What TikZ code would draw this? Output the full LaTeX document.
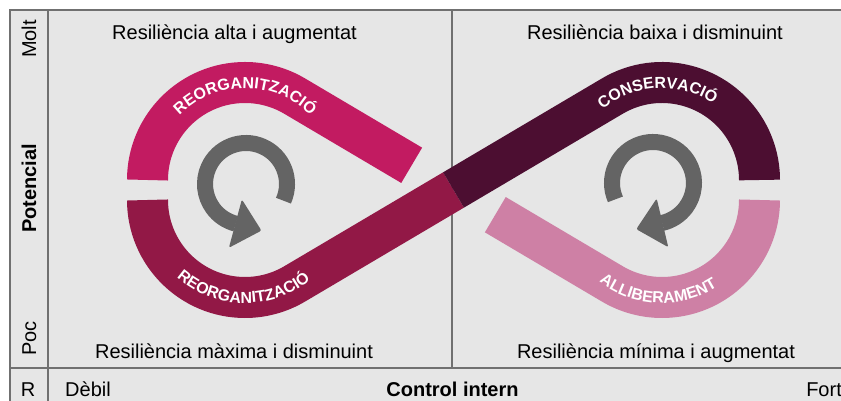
\documentclass[tikz,border=0pt]{standalone}
\usepackage{fontspec}
\setmainfont{Liberation Sans}
\usetikzlibrary{calc,decorations.text}
\definecolor{bggrey}{HTML}{E6E6E6}
\definecolor{linegrey}{HTML}{707070}
\definecolor{ringgrey}{HTML}{646464}
\definecolor{cTL}{HTML}{C21B61}
\definecolor{cBL}{HTML}{921846}
\definecolor{cTR}{HTML}{4C0E31}
\definecolor{cBR}{HTML}{CE80A5}
\newcommand{\bandfont}{\bfseries\fontsize{16}{16}\selectfont}
\begin{document}
\begin{tikzpicture}[x=1pt,y=1pt,
  gridline/.style={draw=linegrey, line width=2.5pt},
  lbl/.style={font=\fontsize{20}{24}\selectfont, text=black, inner sep=0pt},
  lblb/.style={font=\fontsize{20}{24}\selectfont\bfseries, text=black, inner sep=0pt},
  band/.style={line width=41pt, line cap=butt},
  ringstyle/.style={draw=ringgrey, line width=16pt, line cap=butt},
  headfill/.style={fill=ringgrey, rounded corners=2pt},
  bandtext/.style={decorate, decoration={text along path, text align=center, text color=white}}
]
\useasboundingbox (0,0) rectangle (841,401);
\clip (0,0) rectangle (841,401);
\fill[white] (0,0) rectangle (841,401);
\fill[bggrey] (10,-5) rectangle (850,391);
% grid lines
\draw[gridline] (10,-5) -- (10,391) -- (850,391);
\draw[gridline] (48,-5) -- (48,391);
\draw[gridline] (10,33) -- (850,33);
\draw[gridline] (452,33) -- (452,391);

% centres
\coordinate (Lt) at (245,221);
\coordinate (Lb) at (245,201);
\coordinate (Rt) at (662,221);
\coordinate (Rb) at (662,201);
\coordinate (M) at (453.5,211);
\coordinate (LC) at (246,217);
\coordinate (RC) at (653,218);

% bands
\draw[band, draw=cTL] ($(Lt)+(180:97.5)$) arc[start angle=180, end angle=59.4, radius=97.5] -- ++(-30.6:136);
\draw[band, draw=cBL] ($(Lb)+(180:97.5)$) arc[start angle=180, end angle=300.6, radius=97.5] -- (M);
\draw[band, draw=cTR] (M) -- ($(Rt)+(120.6:97.5)$) arc[start angle=120.6, end angle=0, radius=97.5];
\draw[band, draw=cBR] ($(Rb)+(0:97.5)$) arc[start angle=0, end angle=-120.6, radius=97.5] -- ++(149.4:136);

% band texts
\path[bandtext, decoration={text={|\bandfont|REORGANITZACIÓ}}] ($(Lt)+(180:91.8)$) arc[start angle=180, end angle=0, radius=91.8];
\path[bandtext, decoration={text={|\bandfont|REORGANITZACIÓ}}] ($(Lb)+(179:103.2)$) arc[start angle=179, end angle=359, radius=103.2];
\path[bandtext, decoration={text={|\bandfont|CONSERVACIÓ}}] ($(Rt)+(183:91.8)$) arc[start angle=183, end angle=3, radius=91.8];
\path[bandtext, decoration={text={|\bandfont|ALLIBERAMENT}}] ($(Rb)+(177.5:103.2)$) arc[start angle=177.5, end angle=357.5, radius=103.2];

% cycle arrows
\draw[ringstyle] ($(LC)+(-24:41)$) arc[start angle=-24, end angle=255.5, radius=41];
\fill[headfill] ($(LC)+(255:16)$) -- ($(LC)+(255:66)$) -- ($(LC)+(255:41)+(345:27)$) -- cycle;
\draw[ringstyle] ($(RC)+(203.5:41)$) arc[start angle=203.5, end angle=-77.1, radius=41];
\fill[headfill] ($(RC)+(-76.6:16)$) -- ($(RC)+(-76.6:66)$) -- ($(RC)+(-76.6:41)+(-166.6:27)$) -- cycle;

% labels
\node[lbl, anchor=base] (t1) at (234.5,361.5) {Resiliència alta i augmentat};
\node[lbl, anchor=base] (t2) at (655,361.5) {Resiliència baixa i disminuint};
\node[lbl, anchor=base] (t3) at (234,42.7) {Resiliència màxima i disminuint};
\node[lbl, anchor=base] (t4) at (656,42.7) {Resiliència mínima i augmentat};
\node[lbl, anchor=base, rotate=90] (molt) at (36,362) {Molt};
\node[lblb, anchor=base, rotate=90] (pot) at (36,212.5) {Potencial};
\node[lbl, anchor=base, rotate=90] (poc) at (36,62.7) {Poc};
\node[lbl, anchor=base] (r) at (28,4.3) {R};
\node[lbl, anchor=base west] (debil) at (65,4.3) {Dèbil};
\node[lblb, anchor=base] (ci) at (452.5,4.3) {Control intern};
\node[lbl, anchor=base east] (fort) at (842,4.3) {Fort};
\end{tikzpicture}
\end{document}
